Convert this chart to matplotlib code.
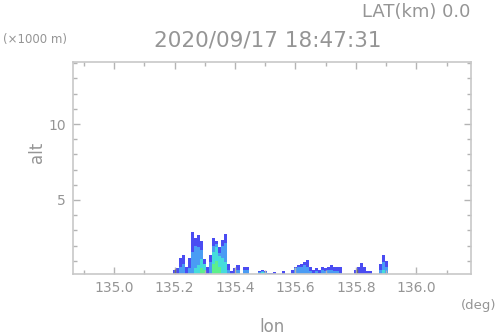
import numpy as np
import matplotlib
matplotlib.use('Agg')
import matplotlib.pyplot as plt
from matplotlib.ticker import MultipleLocator, FormatStrFormatter

# column longitudes of the cross-section (0.01 deg bins)
lon = np.round(135.19 + 0.01 * np.arange(73), 3)

# echo heights (km) per column, outer -> inner intensity layers
h_blue = [0, 0.4, 0.5, 1.2, 1.4, 0.6, 1.2, 2.9, 2.5, 2.7, 2.3, 1.1, 0.6, 1.4, 2.5, 2.3,
          1.9, 2.4, 2.75, 0.8, 0.3, 0.5, 0.7, 0, 0.6, 0.6, 0, 0, 0, 0.35, 0.4, 0.3,
          0.2, 0.2, 0.25, 0.15, 0, 0.3, 0, 0, 0.4, 0.6, 0.7, 0.8, 0.9, 1.05, 0.6, 0.4,
          0.5, 0.4, 0.6, 0.5, 0.6, 0.7, 0.6, 0.6, 0.6, 0, 0, 0, 0, 0.4, 0.6, 0.85,
          0.6, 0.3, 0.3, 0, 0, 0.8, 1.4, 1.0, 0]
h_lblue = [0, 0, 0, 0.6, 0.8, 0, 0.5, 1.6, 2.0, 1.9, 1.7, 0.7, 0, 0.9, 2.0, 2.1,
           1.5, 2.0, 2.2, 0.4, 0, 0, 0.4, 0, 0.4, 0.4, 0, 0, 0, 0.25, 0.3, 0.25,
           0, 0.1, 0.15, 0, 0, 0, 0, 0, 0.2, 0.5, 0.6, 0.6, 0.7, 0.6, 0.3, 0.2,
           0.3, 0.2, 0.4, 0.3, 0.4, 0.4, 0.3, 0.3, 0.2, 0, 0, 0, 0, 0, 0, 0,
           0, 0, 0, 0, 0, 0.4, 0.9, 0.6, 0]
h_cyan = [0] * 73
h_green = [0] * 73
for i, v in {8: 0.5, 9: 0.7, 10: 1.1, 11: 0.8, 14: 1.6, 15: 1.9, 16: 1.3, 17: 1.2,
             18: 0.9, 22: 0.2, 29: 0.15, 30: 0.25, 31: 0.2, 70: 0.4}.items():
    h_cyan[i] = v
for i, v in {10: 0.5, 11: 0.4, 14: 0.8, 15: 1.0, 16: 0.6, 30: 0.12}.items():
    h_green[i] = v

terrain_lon = [135.202, 135.803]
terrain_h = [0.45, 0.45]

fig = plt.figure(figsize=(4.98, 3.36), dpi=100)
ax = fig.add_axes([73 / 498, 62 / 336, 398 / 498, 212 / 336])

w = 0.0101
ax.bar(lon, h_blue, width=w, color='#4a4cf2', linewidth=0)
ax.bar(lon, h_lblue, width=w, color='#4a9cf4', linewidth=0)
ax.bar(lon, h_cyan, width=w, color='#45dcdc', linewidth=0)
ax.bar(lon, h_green, width=w, color='#5cf08c', linewidth=0)
ax.vlines(terrain_lon, 0, terrain_h, color='#707070', linewidth=1)

ax.set_xlim(134.864, 136.181)
ax.set_ylim(0.13, 14.08)

gray = '#959595'
ax.xaxis.set_major_locator(MultipleLocator(0.2))
ax.xaxis.set_minor_locator(MultipleLocator(0.1))
ax.xaxis.set_major_formatter(FormatStrFormatter('%.1f'))
ax.yaxis.set_major_locator(MultipleLocator(5))
ax.yaxis.set_minor_locator(MultipleLocator(1))
ax.set_yticks([5, 10])
ax.tick_params(which='both', direction='in', top=True, right=True, colors='#b4b4b4',
               labelcolor=gray, labelsize=10, pad=5)
ax.tick_params(which='major', length=5, width=1)
ax.tick_params(which='minor', length=3, width=1)
for s in ax.spines.values():
    s.set_color('#c8c8c8')
    s.set_linewidth(1.2)

fig.text(470 / 498, 1 - 12 / 336, 'LAT(km) 0.0', ha='right', va='center', fontsize=13, color=gray)
fig.text(268 / 498, 1 - 40 / 336, '2020/09/17 18:47:31', ha='center', va='center', fontsize=15.5, color=gray)
fig.text(3 / 498, 1 - 40 / 336, '(×1000 m)', ha='left', va='center', fontsize=8.5, color=gray)
fig.text(272 / 498, 1 - 327 / 336, 'lon', ha='center', va='center', fontsize=12, color=gray)
fig.text(37 / 498, 1 - 152 / 336, 'alt', ha='center', va='center', fontsize=12, color=gray, rotation=90)
fig.text(496 / 498, 1 - 306 / 336, '(deg)', ha='right', va='center', fontsize=9.5, color=gray)

fig.savefig('out.png', dpi=100)
